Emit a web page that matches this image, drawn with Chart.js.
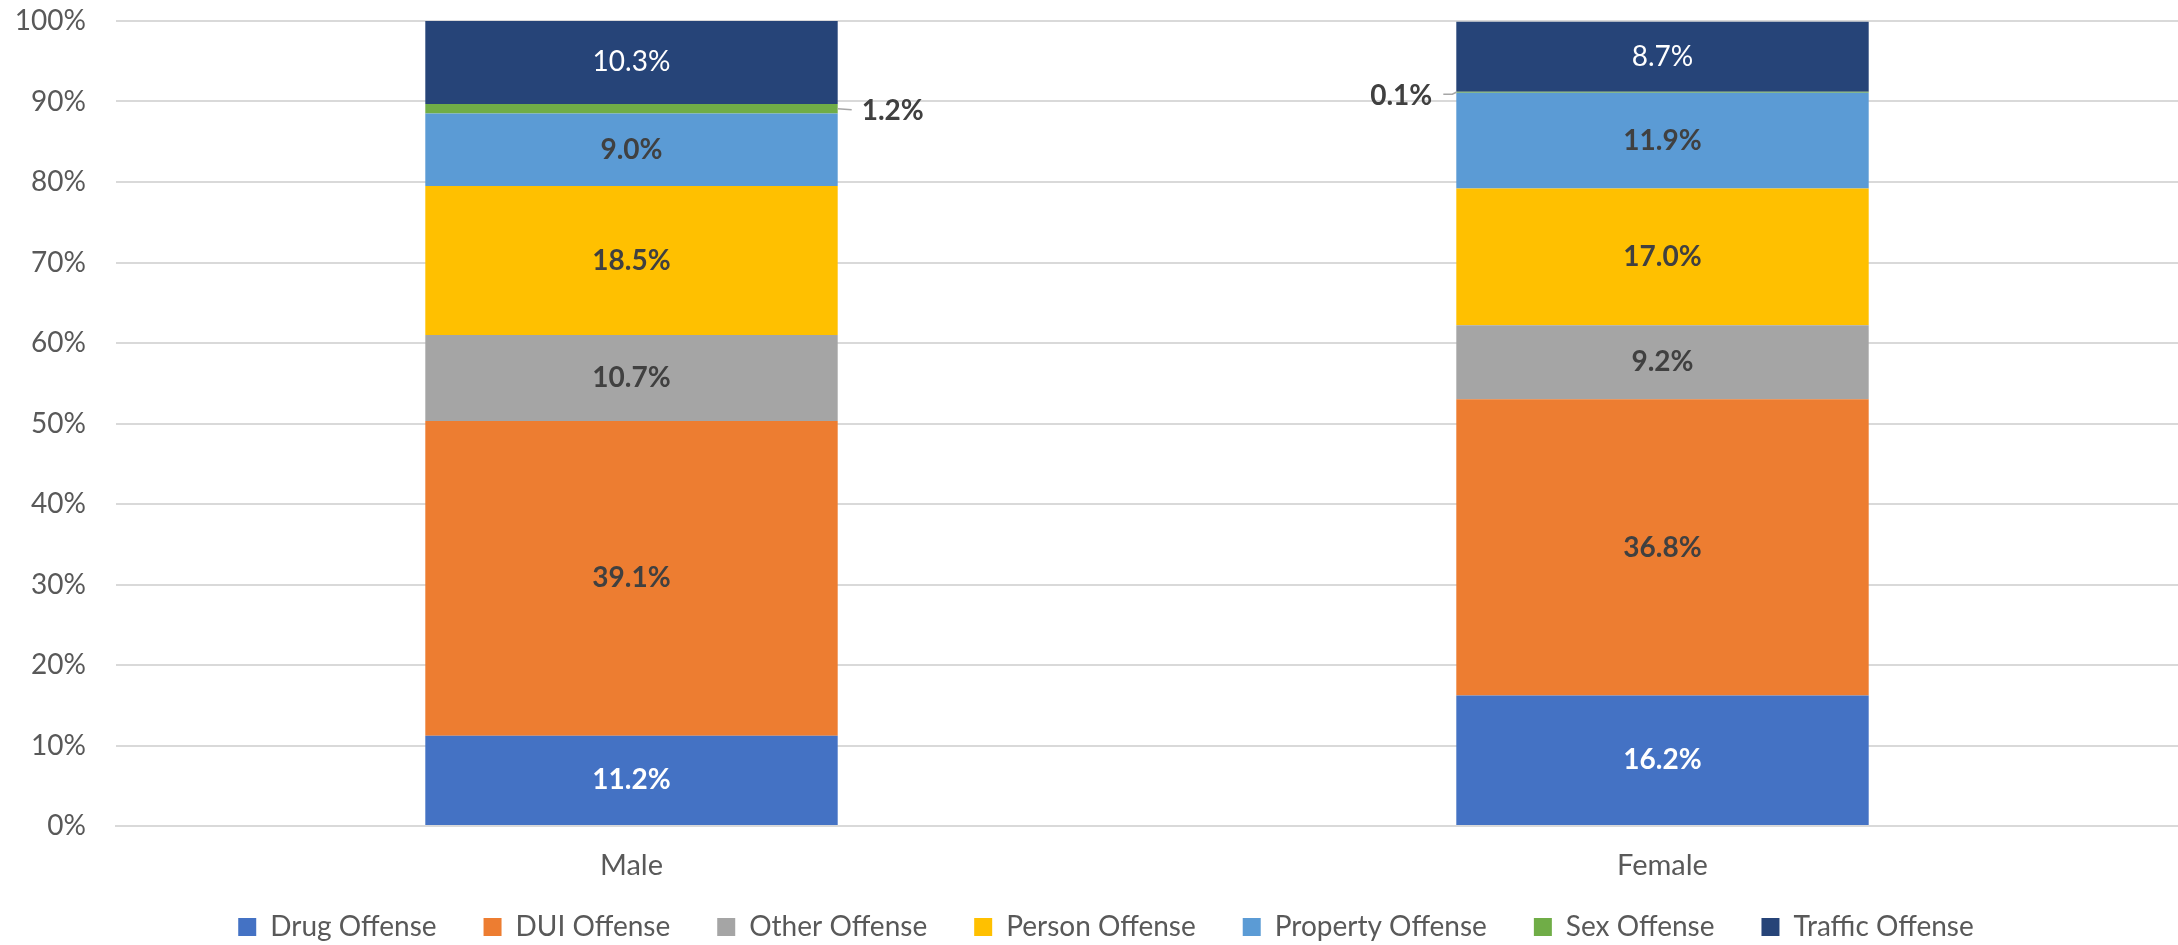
<!DOCTYPE html>
<html>
<head>
<meta charset="utf-8">
<title>Offense Type by Gender</title>
<script src="https://cdn.jsdelivr.net/npm/chart.js@4.4.1/dist/chart.umd.min.js"></script>
<style>
    html, body { margin: 0; padding: 0; background: #ffffff; }
    #wrap { width: 2178px; height: 945px; position: relative; }
</style>
</head>
<body>
<div id="wrap"><canvas id="chart"></canvas></div>
<script>
// Chart data (percent of each gender group)
const categories = ['Male', 'Female'];
const offenseTypes = ['Drug Offense', 'DUI Offense', 'Other Offense', 'Person Offense', 'Property Offense', 'Sex Offense', 'Traffic Offense'];
const drugValues = [11.2, 16.2];
const duiValues = [39.1, 36.8];
const otherValues = [10.7, 9.2];
const personValues = [18.5, 17.0];
const propertyValues = [9.0, 11.9];
const sexValues = [1.2, 0.1];
const trafficValues = [10.3, 8.7];
const yTicks = [0, 10, 20, 30, 40, 50, 60, 70, 80, 90, 100];

const seriesValues = [drugValues, duiValues, otherValues, personValues, propertyValues, sexValues, trafficValues];
const seriesColors = ['#4472C4', '#ED7D31', '#A5A5A5', '#FFC000', '#5B9BD5', '#70AD47', '#264478'];

const FONT = 'Lato, "Liberation Sans", sans-serif';
const DARK = '#404040';
const AXIS_GRAY = '#595959';

// label style per series: [color, bold]
const labelStyles = [
    ['#ffffff', true],
    [DARK, true],
    [DARK, true],
    [DARK, true],
    [DARK, true],
    [DARK, true],
    ['#ffffff', false]
];

// Fixed band heights below the plot (x labels + legend)
const X_AXIS_HEIGHT = 62;
const LEGEND_HEIGHT = 57;

// Keep legend at a fixed height so the plot area matches the original,
// then nudge it into place (Excel puts it a bit higher / right)
const legendSizer = {
    id: 'legendSizer',
    beforeInit(chart) {
        const legend = chart.legend;
        if (!legend) return;
        const fit = legend.fit;
        legend.fit = function() {
            fit.call(this);
            this.height = LEGEND_HEIGHT;
        };
    },
    afterLayout(chart) {
        const legend = chart.legend;
        if (!legend) return;
        // legend clips to its own box, so only grow it upwards
        legend.top -= 22;
        legend.height += 22;
        legend.left += 17;
        legend.right += 17;
    }
};

// Draw the value labels on each segment (Excel-style)
const segmentLabels = {
    id: 'segmentLabels',
    afterDatasetsDraw(chart) {
        const ctx = chart.ctx;
        ctx.save();
        chart.data.datasets.forEach((ds, di) => {
            const meta = chart.getDatasetMeta(di);
            meta.data.forEach((bar, i) => {
                const text = ds.data[i].toFixed(1) + '%';
                const cy = (bar.y + bar.base) / 2;
                const [color, bold] = labelStyles[di];
                ctx.font = (bold ? 'bold ' : '') + '28px ' + FONT;
                ctx.textBaseline = 'middle';

                if (di === 5) {
                    // thin segment: label outside with a short leader line
                    ctx.strokeStyle = '#A6A6A6';
                    ctx.lineWidth = 1.5;
                    ctx.fillStyle = DARK;
                    ctx.beginPath();
                    if (i === 0) {
                        const xr = bar.x + bar.width / 2;
                        ctx.moveTo(xr, cy);
                        ctx.lineTo(xr + 14, cy + 1);
                        ctx.stroke();
                        ctx.textAlign = 'left';
                        ctx.fillText(text, xr + 24, cy + 2);
                    } else {
                        const xl = bar.x - bar.width / 2;
                        ctx.moveTo(xl, cy);
                        ctx.lineTo(xl - 4, cy + 2);
                        ctx.lineTo(xl - 13, cy + 2);
                        ctx.stroke();
                        ctx.textAlign = 'right';
                        ctx.fillText(text, xl - 24, cy + 4);
                    }
                    return;
                }

                ctx.fillStyle = color;
                ctx.textAlign = 'center';
                ctx.fillText(text, bar.x, cy);
            });
        });
        ctx.restore();
    }
};

const datasets = offenseTypes.map((name, idx) => ({
    label: name,
    data: seriesValues[idx],
    backgroundColor: seriesColors[idx],
    borderWidth: 0,
    categoryPercentage: 1.0,
    barPercentage: 0.4
}));

const ctx = document.getElementById('chart').getContext('2d');
new Chart(ctx, {
    type: 'bar',
    data: {
        labels: categories,
        datasets: datasets
    },
    plugins: [legendSizer, segmentLabels],
    options: {
        responsive: true,
        maintainAspectRatio: false,
        animation: false,
        layout: {
            padding: { top: 21, right: 0, bottom: 0, left: 0 }
        },
        plugins: {
            legend: {
                position: 'bottom',
                labels: {
                    boxWidth: 18,
                    boxHeight: 18,
                    padding: 47,
                    color: AXIS_GRAY,
                    font: { family: FONT, size: 28 }
                }
            },
            tooltip: { enabled: false }
        },
        scales: {
            x: {
                stacked: true,
                grid: { display: false },
                border: { display: true, color: '#D9D9D9', width: 2 },
                afterFit: scale => {
                    scale.height = X_AXIS_HEIGHT;
                },
                ticks: {
                    color: AXIS_GRAY,
                    padding: 14,
                    font: { family: FONT, size: 29 }
                }
            },
            y: {
                stacked: true,
                min: 0,
                max: 100,
                afterBuildTicks: scale => {
                    scale.ticks = yTicks.map(v => ({ value: v }));
                },
                afterFit: scale => {
                    scale.width = 116;
                    // no extra room for the top/bottom tick labels
                    scale.paddingTop = 0;
                    scale.paddingBottom = 0;
                },
                grid: {
                    color: '#D9D9D9',
                    lineWidth: 2,
                    drawTicks: false
                },
                border: { display: false },
                ticks: {
                    color: AXIS_GRAY,
                    padding: 30,
                    font: { family: FONT, size: 28 },
                    callback: value => value + '%'
                }
            }
        }
    }
});
</script>
</body>
</html>
